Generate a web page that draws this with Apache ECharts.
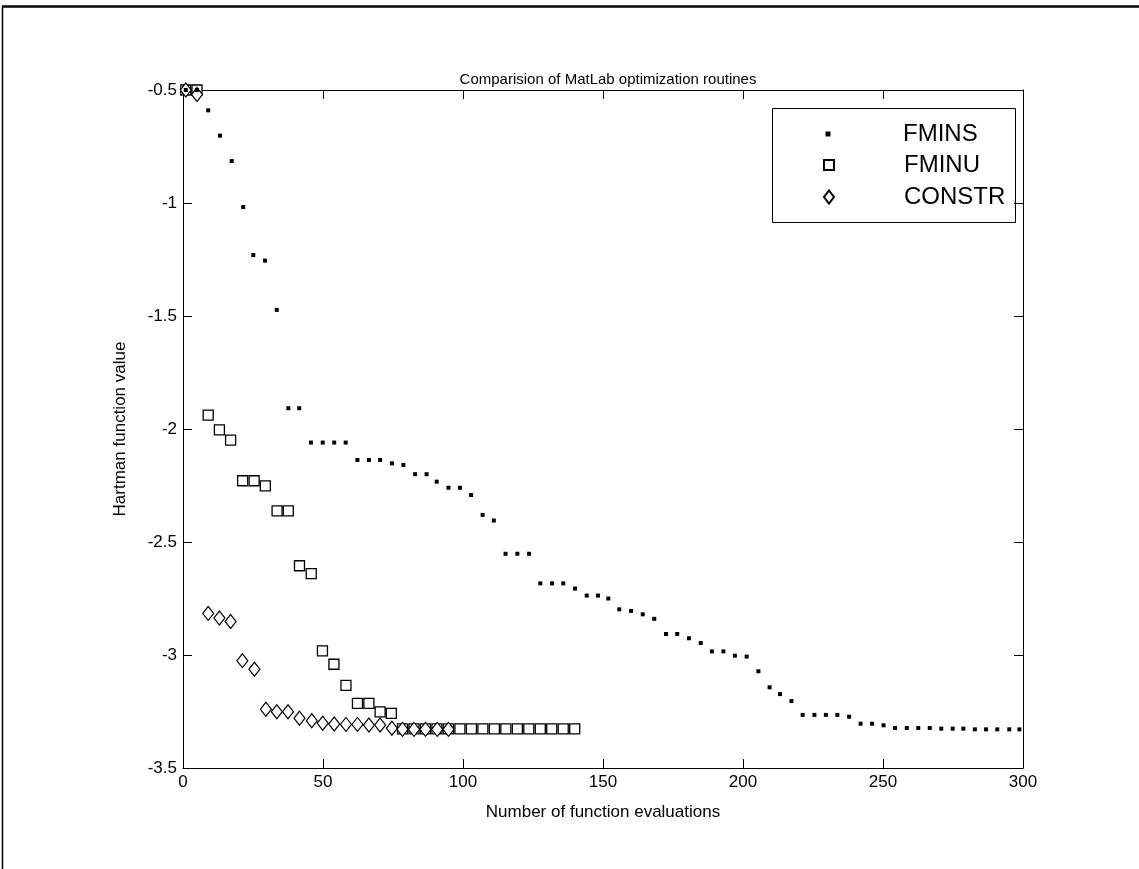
<!DOCTYPE html>
<html>
<head>
<meta charset="utf-8">
<script src="https://cdn.jsdelivr.net/npm/echarts@6/dist/echarts.min.js"></script>
<style>
html,body{margin:0;padding:0;background:#fff;}
#chart{width:1139px;height:869px;}
</style>
</head>
<body>
<div id="chart"></div>
<script>
const titleText = 'Comparision of MatLab optimization routines';
const xName = 'Number of function evaluations';
const yName = 'Hartman function value';
const seriesNames = ['FMINS', 'FMINU', 'CONSTR'];

const fminsX = [1,5,9.0,13.2,17.4,21.5,25.1,29.3,33.5,37.6,41.5,45.7,49.9,54,58.1,62.3,66.4,70.4,74.6,78.7,82.9,87,90.6,94.8,98.9,102.9,107,111,115.2,119.4,123.6,127.6,131.8,135.8,140,144.2,148.2,151.9,155.8,160,164.2,168.3,172.5,176.5,180.7,184.9,188.9,193,197.1,201.3,205.5,209.5,213.2,217.3,221.3,225.5,229.6,233.7,237.9,242,246.1,250.2,254.3,258.5,262.6,266.7,270.8,274.9,278.7,282.8,286.8,290.8,295.1,298.7];
const fminsY = [-0.5,-0.5,-0.59,-0.702,-0.814,-1.018,-1.23,-1.255,-1.473,-1.908,-1.908,-2.06,-2.06,-2.06,-2.06,-2.137,-2.137,-2.137,-2.152,-2.159,-2.2,-2.2,-2.233,-2.26,-2.26,-2.292,-2.38,-2.405,-2.552,-2.552,-2.552,-2.683,-2.683,-2.683,-2.706,-2.737,-2.737,-2.75,-2.798,-2.805,-2.82,-2.84,-2.907,-2.907,-2.926,-2.947,-2.984,-2.984,-3.003,-3.007,-3.072,-3.143,-3.173,-3.204,-3.265,-3.265,-3.265,-3.265,-3.273,-3.304,-3.304,-3.311,-3.323,-3.323,-3.323,-3.323,-3.326,-3.326,-3.326,-3.329,-3.329,-3.329,-3.329,-3.329];

const fminuX = [1,5,9.0,13.0,17.0,21.3,25.4,29.4,33.6,37.6,41.6,45.8,49.8,53.9,58.2,62.3,66.4,70.4,74.4,78.4,82.5,86.6,90.7,94.8,98.9,103,107.1,111.2,115.3,119.4,123.5,127.6,131.7,135.8,139.9];
const fminuY = [-0.5,-0.5,-1.939,-2.004,-2.049,-2.229,-2.229,-2.252,-2.362,-2.362,-2.605,-2.64,-2.982,-3.041,-3.134,-3.214,-3.214,-3.252,-3.258,-3.327,-3.327,-3.327,-3.327,-3.327,-3.327,-3.327,-3.327,-3.327,-3.327,-3.327,-3.327,-3.327,-3.327,-3.327,-3.327];

const constrX = [1,5,9.0,13.0,17.0,21.2,25.5,29.6,33.5,37.5,41.6,46,49.9,54,58.2,62.3,66.4,70.4,74.6,78.4,82.5,86.6,90.8,94.8];
const constrY = [-0.5,-0.52,-2.816,-2.836,-2.852,-3.025,-3.063,-3.24,-3.251,-3.251,-3.28,-3.291,-3.302,-3.305,-3.307,-3.307,-3.31,-3.31,-3.324,-3.329,-3.329,-3.329,-3.329,-3.329];

const xTicks = [0,50,100,150,200,250,300];
const yTicks = [-3.5,-3,-2.5,-2,-1.5,-1,-0.5];

function pairs(xs, ys){ return xs.map((x,i)=>[x, ys[i]]); }

const FONT = '"Liberation Sans", Arial, Helvetica, sans-serif';
const chart = echarts.init(document.getElementById('chart'), null, {renderer:'canvas'});

const axisCommon = {
  type:'value',
  axisLine:{show:true, onZero:false, lineStyle:{color:'#000', width:1}},
  axisTick:{show:true, inside:true, length:9, lineStyle:{color:'#000', width:1}},
  splitLine:{show:false}
};

const legendText = {fontFamily:FONT, fontSize:24, color:'#000'};
const legendCommon = {orient:'vertical', itemGap:0, padding:0, selectedMode:false};

chart.setOption({
  animation:false,
  backgroundColor:'#fff',
  title:{
    text:titleText, left:603, top:67, textAlign:'center',
    textStyle:{fontFamily:FONT, fontSize:15, fontWeight:'normal', color:'#000'}
  },
  grid:{left:183, right:116, top:90, bottom:101, containLabel:false},
  xAxis:[
    Object.assign({}, axisCommon, {
      position:'bottom', min:0, max:300, interval:50,
      name:xName, nameLocation:'middle', nameGap:36,
      nameTextStyle:{fontFamily:FONT, fontSize:17, color:'#000'},
      axisLabel:{fontFamily:FONT, fontSize:17, color:'#000', margin:6,
        formatter:v => xTicks.indexOf(v) >= 0 ? String(v) : ''}
    }),
    Object.assign({}, axisCommon, {
      position:'top', min:0, max:300, interval:50, axisLabel:{show:false}
    })
  ],
  yAxis:[
    Object.assign({}, axisCommon, {
      position:'left', min:-3.5, max:-0.5, interval:0.5,
      name:yName, nameLocation:'middle', nameGap:54, nameRotate:90,
      nameTextStyle:{fontFamily:FONT, fontSize:17, color:'#000'},
      axisLabel:{fontFamily:FONT, fontSize:17, color:'#000', margin:6,
        formatter:v => yTicks.indexOf(Math.round(v*10)/10) >= 0 ? String(v) : ''}
    }),
    Object.assign({}, axisCommon, {
      position:'right', min:-3.5, max:-0.5, interval:0.5, axisLabel:{show:false}
    })
  ],
  legend:[
    Object.assign({}, legendCommon, {data:[seriesNames[0]], left:825.5, top:122, itemWidth:5, itemHeight:5,
      textStyle:Object.assign({}, legendText, {padding:[0,0,14,67.5]})}),
    Object.assign({}, legendCommon, {data:[seriesNames[1]], left:823, top:153, itemWidth:10, itemHeight:10,
      textStyle:Object.assign({}, legendText, {padding:[0,0,10,65]})}),
    Object.assign({}, legendCommon, {data:[seriesNames[2]], left:823, top:185, itemWidth:10, itemHeight:13,
      textStyle:Object.assign({}, legendText, {padding:[0,0,0,65]})})
  ],
  graphic:[
    {type:'rect', left:772, top:108, shape:{width:243, height:114}, style:{fill:'#fff', stroke:'#000', lineWidth:1}, z:-1, silent:true},
    {type:'line', shape:{x1:2, y1:6.5, x2:1139, y2:6.5}, style:{stroke:'#000', lineWidth:2.5}, silent:true},
    {type:'line', shape:{x1:2.5, y1:6, x2:2.5, y2:869}, style:{stroke:'#000', lineWidth:1.5}, silent:true}
  ],
  series:[
    {
      name:seriesNames[1], type:'scatter', data:pairs(fminuX, fminuY),
      symbol:'rect', symbolSize:10,
      itemStyle:{color:'#fff', borderColor:'#000', borderWidth:1.3, opacity:1},
      emphasis:{disabled:true}
    },
    {
      name:seriesNames[2], type:'scatter', data:pairs(constrX, constrY),
      symbol:'diamond', symbolSize:[11,14],
      itemStyle:{color:'#fff', borderColor:'#000', borderWidth:1.2, opacity:1},
      emphasis:{disabled:true}
    },
    {
      name:seriesNames[0], type:'scatter', data:pairs(fminsX, fminsY),
      symbol:'rect', symbolSize:4,
      itemStyle:{color:'#000', opacity:1},
      emphasis:{disabled:true}
    }
  ]
});
</script>
</body>
</html>
